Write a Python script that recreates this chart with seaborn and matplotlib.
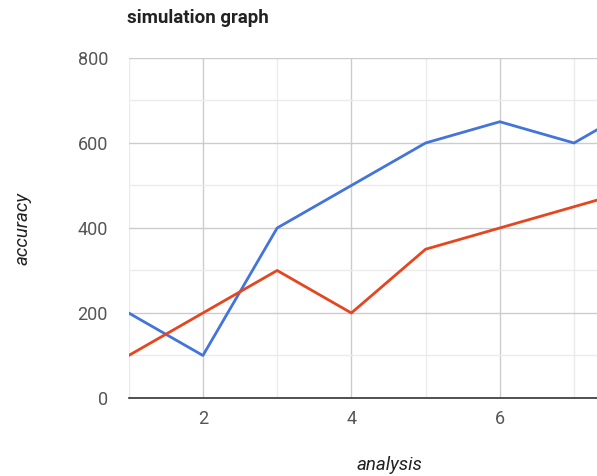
import matplotlib
matplotlib.use("Agg")
import matplotlib.pyplot as plt
import seaborn as sns
import pandas as pd
from matplotlib.ticker import MultipleLocator

# data
analysis = [1, 2, 3, 4, 5, 6, 7, 8]
series_blue = [200, 100, 400, 500, 600, 650, 600, 700]
series_red = [100, 200, 300, 200, 350, 400, 450, 500]

df = pd.DataFrame({
    "analysis": analysis * 2,
    "accuracy": series_blue + series_red,
    "series": ["blue"] * len(analysis) + ["red"] * len(analysis),
})

sns.set_theme(style="white")
plt.rcParams["font.family"] = ["Roboto", "DejaVu Sans"]

fig = plt.figure(figsize=(5.97, 4.76), dpi=100)
ax = fig.add_axes([0.2156, 0.1639, 0.7844, 0.7143])

sns.lineplot(data=df, x="analysis", y="accuracy", hue="series",
             palette={"blue": "#4274db", "red": "#e5461f"},
             linewidth=2, ax=ax, legend=False, clip_on=True)

ax.set_xlim(1, 7.31)
ax.set_ylim(0, 800)
ax.xaxis.set_major_locator(MultipleLocator(2))
ax.xaxis.set_minor_locator(MultipleLocator(1))
ax.yaxis.set_major_locator(MultipleLocator(200))
ax.yaxis.set_minor_locator(MultipleLocator(100))

ax.grid(which="major", color="#cccccc", linewidth=1)
ax.grid(which="minor", color="#ebebeb", linewidth=1)
ax.set_axisbelow(True)
for s in ["top", "right", "left"]:
    ax.spines[s].set_visible(False)
ax.spines["bottom"].set_color("#333333")
ax.spines["bottom"].set_linewidth(1.2)
ax.spines["bottom"].set_zorder(5)

ax.tick_params(which="both", length=0, labelsize=13, colors="#555555")
ax.tick_params(axis="x", pad=9)
ax.tick_params(axis="y", pad=15)
ax.set_xticks([2, 4, 6])
ax.set_yticks([0, 200, 400, 600, 800])

ax.set_xlabel("")
ax.set_ylabel("")
fig.text(0.652, 0.023, "analysis", fontsize=13.5, style="italic", color="#222222",
         ha="center", va="center")
fig.text(0.037, 0.52, "accuracy", fontsize=13.5, style="italic", color="#222222",
         rotation=90, ha="center", va="center")
fig.text(0.213, 0.962, "simulation graph", fontsize=13.5, fontweight="bold",
         color="#222222", ha="left", va="center")

plt.savefig("out.png", dpi=100)
plt.close(fig)
